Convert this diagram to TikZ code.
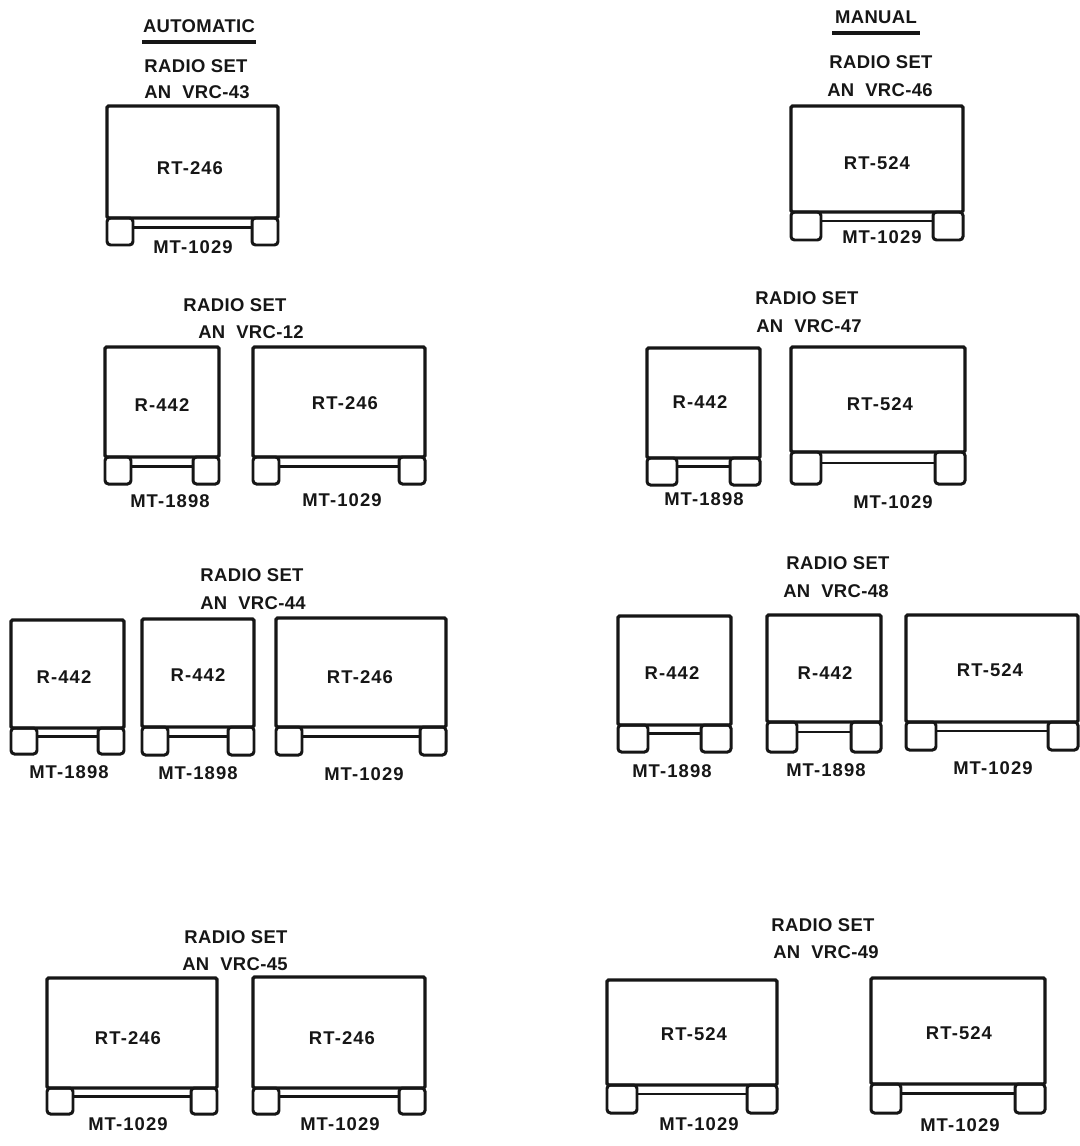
\documentclass[tikz,border=0pt]{standalone}
\usepackage{fontspec}
\setmainfont[LetterSpace=2]{Liberation Sans}
\usepackage{xcolor}
\definecolor{plateink}{HTML}{161616}

\begin{document}
\begin{tikzpicture}[x=0.02cm,y=-0.02cm,
  body/.style={draw=plateink, line width=1.9pt, rectangle, rounded corners=0.8pt, inner sep=0pt, outer sep=0pt},
  foot/.style={draw=plateink, line width=1.7pt, rectangle, rounded corners=2pt, inner sep=0pt, outer sep=0pt},
  lettering/.style={text=plateink, font=\bfseries\fontsize{10.5}{12}\selectfont, inner sep=0pt},
  unitname/.style={lettering, font=\bfseries\fontsize{10.5}{12}\selectfont\addfontfeature{LetterSpace=6}},
  heading/.style={lettering, minimum width=2.28cm, minimum height=0.64cm, outer sep=0pt},
  every path/.style={color=plateink, line width=1.5pt}]
\useasboundingbox (0,0) rectangle (1079,1146);
% column headings
\node[heading] (auto) at (199,26) {AUTOMATIC};
\node[heading, minimum width=1.76cm] (manu) at (876,17) {MANUAL};
\draw[line width=1.8pt] (auto.south west) -- (auto.south east);
\draw[line width=1.8pt] (manu.south west) -- (manu.south east);
% set titles
\foreach \n/\xa/\ya/\xb/\yb/\tb in {
  s43/196/66/197/92/43, s12/235/305/251/332/12, s44/252/575/253/603/44, s45/236/937/235/964/45,
  s46/881/62/880/90/46, s47/807/298/809/326/47, s48/838/563/836/591/48, s49/823/925/826/952/49} {
  \node[lettering] (\n a) at (\xa,\ya) {RADIO SET};
  \node[lettering] (\n b) at (\xb,\yb) {AN~~VRC-\tb};
}
% units, name/left/right/top/bottom/feet/text/x/y/mount/x/y
\foreach \n/\xa/\xb/\yt/\yb/\yf/\lab/\lx/\ly/\mt/\mx/\my in {
  a1/107/278/106/218/245/RT-246/190/168/MT-1029/193/247,
  b1/105/219/347/457/484/R-442/162/405/MT-1898/170/501,
  b2/253/425/347/457/484/RT-246/345/403/MT-1029/342/500,
  c1/11/124/620/728/754/R-442/64/677/MT-1898/69/772,
  c2/142/254/619/727/755/R-442/198/675/MT-1898/198/773,
  c3/276/446/618/727/755/RT-246/360/677/MT-1029/364/774,
  d1/47/217/978/1088/1114/RT-246/128/1038/MT-1029/128/1124,
  d2/253/425/977/1088/1114/RT-246/342/1038/MT-1029/340/1124,
  e1/791/963/106/212/240/RT-524/877/163/MT-1029/882/237,
  f1/647/760/348/458/485/R-442/700/402/MT-1898/704/499,
  f2/791/965/347/452/484/RT-524/880/404/MT-1029/893/502,
  g1/618/731/616/725/752/R-442/672/673/MT-1898/672/771,
  g2/767/881/615/722/752/R-442/825/673/MT-1898/826/770,
  g3/906/1078/615/722/750/RT-524/990/670/MT-1029/993/768,
  h1/607/777/980/1085/1113/RT-524/694/1034/MT-1029/699/1124,
  h2/871/1045/978/1084/1113/RT-524/959/1033/MT-1029/960/1125} {
  \pgfmathsetmacro{\bw}{(\xb-\xa)*0.02}
  \pgfmathsetmacro{\bh}{(\yb-\yt)*0.02}
  \pgfmathsetmacro{\fh}{(\yf-\yb)*0.02}
  \pgfmathsetmacro{\fw}{\xa<500 ? 0.52 : 0.6}
  \node[body, minimum width=\bw cm, minimum height=\bh cm] (\n) at ({(\xa+\xb)/2},{(\yt+\yb)/2}) {};
  \node[foot, minimum width=\fw cm, minimum height=\fh cm, anchor=north west] (\n l) at (\n.south west) {};
  \node[foot, minimum width=\fw cm, minimum height=\fh cm, anchor=north east] (\n r) at (\n.south east) {};
  \draw (\n l.18) -- (\n r.162);
  \node[unitname] (\n t) at (\lx,\ly) {\lab};
  \node[unitname] (\n m) at (\mx,\my) {\mt};
}
\end{tikzpicture}
\end{document}
